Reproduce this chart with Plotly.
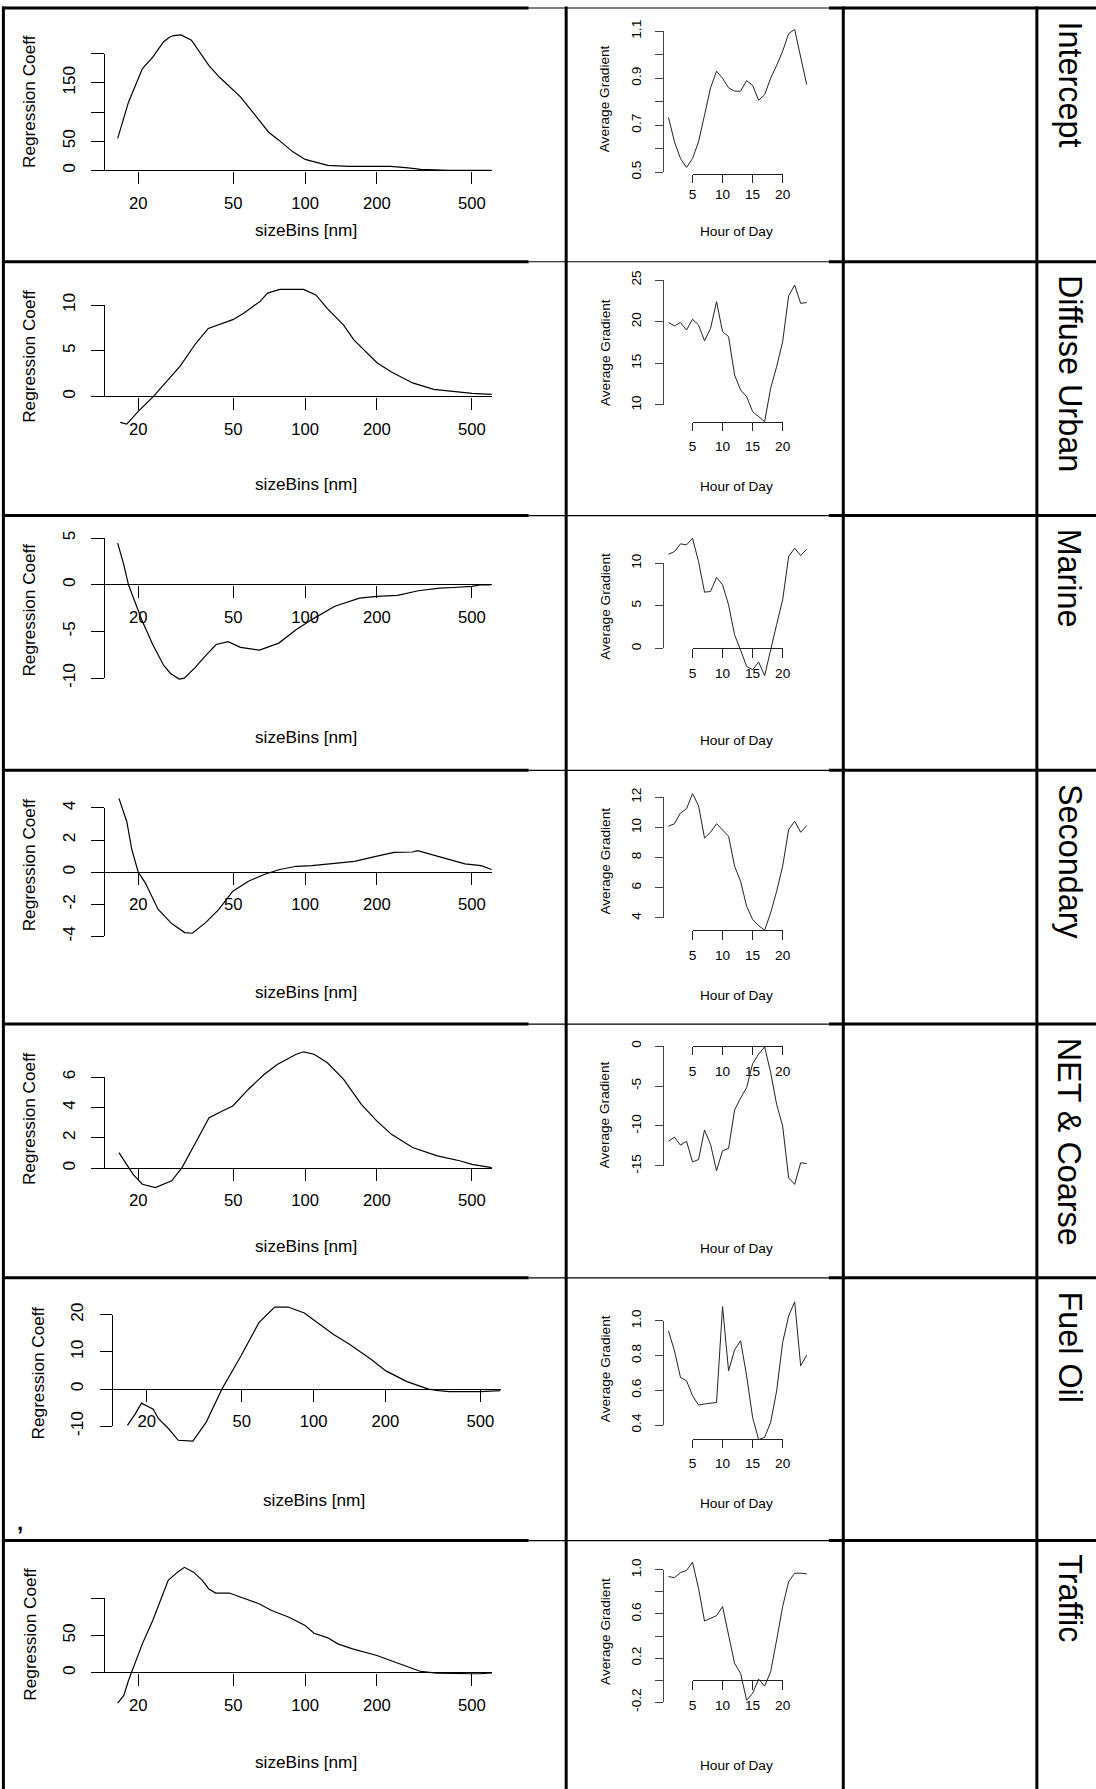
import math
import plotly.graph_objects as go

W, H = 1096, 1789
FONT = "Liberation Sans, Arial, sans-serif"

# ---------------- data ----------------
ROW_NAMES = ["Intercept", "Diffuse Urban", "Marine", "Secondary", "NET & Coarse", "Fuel Oil", "Traffic"]

SIZE_TICKS = [20, 50, 100, 200, 500]
SIZE_TICK_TEXT = ["20", "50", "100", "200", "500"]
HOUR_TICKS = [5, 10, 15, 20]
HOUR_TICK_TEXT = ["5", "10", "15", "20"]
HOURS = list(range(1, 25))

size_intercept = [16.4, 18.2, 20.8, 23.0, 25.5, 27.0, 28.2, 30.2, 33.4, 39.5, 43.7, 50.0, 53.6, 63.4, 70.2,
                  77.6, 88.9, 100, 124.5, 152, 228, 270, 305, 400, 500, 600]
coef_intercept = [55, 117, 174, 194, 220, 228, 231, 232, 223, 180, 160, 137, 126, 89, 66,
                  52, 32, 19, 9, 7, 7, 4.5, 2, 0.5, 0.3, 0.2]

size_diffuse = [16.8, 17.9, 20.0, 23.1, 29.9, 34.8, 39.3, 44.7, 49.8, 55.3, 64.8, 69.6, 78.4, 98.5, 111,
                124, 145, 160, 200, 230, 282, 346, 424, 500, 605]
coef_diffuse = [-2.8, -3.0, -1.6, 0.0, 3.3, 5.8, 7.45, 8.0, 8.4, 9.1, 10.4, 11.3, 11.7, 11.7, 11.1,
                9.6, 7.8, 6.2, 3.7, 2.7, 1.5, 0.8, 0.55, 0.36, 0.25]

size_marine = [16.4, 17.4, 18.2, 19.1, 20.8, 23.0, 25.5, 27.3, 29.7, 31.2, 34.5, 38.3, 42.4, 47.6, 53.6,
               64.4, 77.6, 91.9, 108.8, 133.2, 169, 200, 244, 298, 366, 418, 500, 549, 600]
coef_marine = [4.46, 2.14, 0.0, -1.43, -3.9, -6.4, -8.6, -9.5, -10.1, -10.0, -8.9, -7.6, -6.4, -6.1, -6.7,
               -7.0, -6.25, -4.8, -3.6, -2.3, -1.43, -1.25, -1.14, -0.64, -0.36, -0.29, -0.18, 0.0, 0.0]

size_secondary = [16.6, 17.9, 18.8, 20.0, 21.4, 24.2, 27.6, 31.3, 33.7, 38.3, 43.6, 49.8, 57.9, 67.3,
                  78.2, 91.9, 106.7, 131, 161, 200, 236, 282, 296, 328, 401, 467, 546, 605]
coef_secondary = [4.6, 3.16, 1.4, 0.0, -0.66, -2.3, -3.2, -3.76, -3.8, -3.14, -2.3, -1.18, -0.56, -0.14,
                   0.17, 0.37, 0.41, 0.54, 0.68, 1.0, 1.24, 1.26, 1.34, 1.16, 0.79, 0.52, 0.41, 0.17]

size_net = [16.6, 17.9, 19.0, 20.8, 23.6, 27.6, 30.5, 34.8, 39.6, 45.0, 49.8, 57.9, 67.3, 76.4, 91.8,
            98.5, 109, 124, 145, 172, 200, 230, 282, 358, 448, 500, 605]
coef_net = [1.03, 0.26, -0.39, -1.05, -1.27, -0.83, 0.04, 1.69, 3.33, 3.77, 4.1, 5.2, 6.17, 6.83, 7.5,
            7.66, 7.5, 6.94, 5.85, 4.2, 3.1, 2.23, 1.36, 0.81, 0.48, 0.26, 0.04]

size_fuel = [16.6, 17.9, 19.0, 20.2, 21.3, 22.4, 24.7, 27.1, 31.2, 35.5, 41.3, 49.6, 59.0, 68.7, 78.2,
             91.4, 103.9, 121.3, 141.3, 173.9, 200.8, 246, 303, 334, 370, 410, 500, 606]
coef_fuel = [-9.8, -6.7, -3.8, -4.7, -5.4, -8.0, -10.7, -13.8, -14.0, -8.9, 0.0, 8.9, 17.9, 22.1, 22.1,
             20.5, 17.9, 14.7, 12.1, 8.0, 4.9, 2.0, 0.0, -0.45, -0.7, -0.7, -0.7, -0.4]

size_traffic = [16.4, 17.4, 18.2, 19.1, 20.8, 23.0, 25.0, 26.7, 29.2, 31.2, 34.1, 37.1, 39.5, 42.2, 48.1,
                55.0, 64.4, 72.4, 85.6, 100, 109, 124.5, 137, 158, 180, 200, 228, 261, 305, 355, 418,
                500, 540, 608]
coef_traffic = [-40.6, -30.4, -10.3, 7.6, 38.8, 70.1, 99, 124, 135, 141.5, 135, 124, 112.5, 107, 107,
                100.4, 92.4, 83.5, 74.6, 63.4, 53.1, 46.9, 38.8, 32.1, 27.7, 23.2, 16.5, 9.8, 1.8, -0.4, -1.3,
                -1.3, -1.3, 0.0]

grad_intercept = [0.733, 0.629, 0.558, 0.52, 0.558, 0.629, 0.743, 0.859, 0.93, 0.90, 0.859, 0.845,
                  0.845, 0.89, 0.87, 0.806, 0.83, 0.90, 0.955, 1.015, 1.09, 1.108, 0.99, 0.873]
grad_diffuse = [19.9, 19.5, 19.9, 19.0, 20.3, 19.6, 17.7, 19.2, 22.4, 18.8, 18.2, 13.6,
                11.8, 11.0, 9.2, 8.6, 8.0, 12.0, 14.6, 17.6, 23.1, 24.4, 22.2, 22.3]
grad_marine = [11.05, 11.37, 12.27, 12.15, 12.93, 10.2, 6.6, 6.68, 8.32, 7.46, 5.12, 1.6,
               -0.2, -2.1, -2.5, -1.6, -3.2, 0.0, 2.8, 5.7, 10.8, 11.76, 10.9, 11.64]
grad_secondary = [10.08, 10.25, 10.96, 11.23, 12.24, 11.45, 9.3, 9.68, 10.25, 9.86, 9.41, 7.43,
                  6.43, 4.77, 3.89, 3.49, 3.18, 4.33, 5.77, 7.43, 9.86, 10.41, 9.68, 10.12]
grad_net = [-11.9, -11.4, -12.4, -11.9, -14.5, -14.2, -10.5, -12.3, -15.6, -13.1, -12.8, -8.0,
            -6.5, -5.2, -2.2, -1.0, -0.1, -3.3, -7.3, -10.0, -16.5, -17.3, -14.6, -14.7]
grad_fuel = [0.942, 0.827, 0.674, 0.655, 0.569, 0.515, 0.521, 0.525, 0.530, 1.082, 0.712, 0.833,
             0.885, 0.684, 0.444, 0.316, 0.329, 0.415, 0.597, 0.875, 1.028, 1.109, 0.741, 0.802]
grad_traffic = [0.939, 0.930, 0.976, 0.994, 1.07, 0.833, 0.536, 0.561, 0.585, 0.667, 0.409, 0.152,
                0.061, -0.182, -0.121, 0.009, -0.055, 0.076, 0.364, 0.667, 0.894, 0.970, 0.970, 0.964]

coef_yticks = [
    ([0, 50, 100, 150, 200], ["0", "50", "", "150", ""]),
    ([0, 5, 10], ["0", "5", "10"]),
    ([-10, -5, 0, 5], ["-10", "-5", "0", "5"]),
    ([-4, -2, 0, 2, 4], ["-4", "-2", "0", "2", "4"]),
    ([0, 2, 4, 6], ["0", "2", "4", "6"]),
    ([-10, 0, 10, 20], ["-10", "0", "10", "20"]),
    ([0, 50, 100], ["0", "50", ""]),
]
grad_yticks = [
    ([0.5, 0.6, 0.7, 0.8, 0.9, 1.0, 1.1], ["0.5", "", "0.7", "", "0.9", "", "1.1"]),
    ([10, 15, 20, 25], ["10", "15", "20", "25"]),
    ([0, 5, 10], ["0", "5", "10"]),
    ([4, 6, 8, 10, 12], ["4", "6", "8", "10", "12"]),
    ([-15, -10, -5, 0], ["-15", "-10", "-5", "0"]),
    ([0.4, 0.6, 0.8, 1.0], ["0.4", "0.6", "0.8", "1.0"]),
    ([-0.2, 0.0, 0.2, 0.4, 0.6, 0.8, 1.0], ["-0.2", "", "0.2", "", "0.6", "", "1.0"]),
]

left_data = [(size_intercept, coef_intercept), (size_diffuse, coef_diffuse), (size_marine, coef_marine),
             (size_secondary, coef_secondary), (size_net, coef_net), (size_fuel, coef_fuel),
             (size_traffic, coef_traffic)]
right_data = [grad_intercept, grad_diffuse, grad_marine, grad_secondary, grad_net, grad_fuel, grad_traffic]

# ---------------- layout geometry (target pixels) ----------------
# the photographed page comes out slightly shrunk and offset; compensate globally
OX, OY, SC = 4.6, 10.0, 0.9886


def X(t):
    return (t - OX) / SC


def Y(t):
    return (t - OY) / SC


def clamp(v):
    return min(1.0, max(0.0, v))


def xpap(t):
    return X(t) / W


def ypap(t):
    return 1 - Y(t) / H


def fs(v):
    return v / SC


YMIN_T = OY + 0.5
YMAX_T = OY + SC * H - 0.5

ROW_TOPS = [6, 260, 514, 769, 1023, 1277, 1540]
ROW_BOTS = [260, 514, 769, 1023, 1277, 1540, 1789]

LEFT_GEOM = [
    dict(off=0.0, cal=((0, 168.7), (200, 51.7)), xt=222, yt=94),
    dict(off=0.0, cal=((0, 395.0), (10, 303.3)), xt=222, yt=95),
    dict(off=0.0, cal=((0, 583.3), (-10, 676.7)), xt=222, yt=95),
    dict(off=0.0, cal=((0, 871.0), (4, 806.7)), xt=222, yt=95),
    dict(off=0.0, cal=((0, 1167.3), (6, 1076.0)), xt=222, yt=95),
    dict(off=8.5, cal=((0, 1388.3), (20, 1314.0)), xt=222, yt=95),
    dict(off=0.0, cal=((0, 1672.3), (100, 1597.7)), xt=222, yt=94),
]
RIGHT_GEOM = [
    dict(cal=((0.5, 170.3), (1.1, 29.3)), xaxis_py=172.0, stand=0, xt=224),
    dict(cal=((10, 403.3), (25, 278.3)), xaxis_py=420.0, stand=4, xt=225),
    dict(cal=((0, 647.0), (10, 561.7)), xaxis_py=647.0, stand=4, xt=225),
    dict(cal=((4, 916.7), (12, 796.0)), xaxis_py=929.3, stand=4, xt=225),
    dict(cal=((0, 1045.0), (-15, 1165.0)), xaxis_py=1045.0, stand=4, xt=225),
    dict(cal=((0.4, 1424.3), (1.0, 1320.0)), xaxis_py=1438.3, stand=4, xt=226),
    dict(cal=((-0.2, 1701.7), (1.0, 1569.3)), xaxis_py=1680.0, stand=4, xt=225),
]

axes = {}
traces = []
annotations = []
counter = {"x": 0, "y": 0}


def ref(kind, n):
    return kind + ("" if n == 1 else str(n))


def add_axis(kind, spec):
    counter[kind] += 1
    n = counter[kind]
    axes[kind + "axis" + ("" if n == 1 else str(n))] = spec
    return n


def ymap(cal):
    (va, pa), (vb, pb) = cal
    slope = (vb - va) / (pb - pa)
    return (lambda py: va + (py - pa) * slope), (lambda v: pa + (v - va) / slope)


def ann(text, x, y, size, angle=0, xanchor="center", yanchor="middle"):
    annotations.append(dict(text=text, x=xpap(x), y=ypap(y), xref="paper", yref="paper",
                            showarrow=False, textangle=angle, xanchor=xanchor, yanchor=yanchor,
                            font=dict(family=FONT, size=fs(size), color="black")))


LF = 17
RF = 13.5
hidden = dict(showline=False, showgrid=False, zeroline=False, showticklabels=False, ticks="")

for i in range(7):
    top, bot = ROW_TOPS[i], ROW_BOTS[i]
    dtop, dbot = max(top + 4, YMIN_T), min(bot - 4, YMAX_T)
    # ----- left: regression coefficient vs size bins (log x) -----
    g = LEFT_GEOM[i]
    off = g["off"]
    x20, dec = 138.8 + off, 238.6
    xl, xr = 104.2 + off, 492.5 + off
    logv = lambda px: math.log10(20) + (px - x20) / dec
    val, pix = ymap(g["cal"])
    xn = add_axis("x", dict(type="log", domain=[clamp(xpap(xl)), clamp(xpap(xr))], range=[logv(xl), logv(xr)],
                            anchor="free", position=clamp(ypap(pix(0))), showline=False, showgrid=False,
                            zeroline=False, ticks="outside", ticklen=fs(12), tickwidth=1.1, tickcolor="black",
                            tickmode="array", tickvals=SIZE_TICKS, ticktext=SIZE_TICK_TEXT,
                            ticklabelstandoff=5,
                            tickfont=dict(family=FONT, size=fs(16.5), color="black")))
    yn = add_axis("y", dict(domain=[clamp(ypap(dbot)), clamp(ypap(dtop))], range=[val(dbot), val(dtop)],
                            anchor=ref("x", xn), **{**hidden, "zeroline": True},
                            zerolinecolor="black", zerolinewidth=1.2))
    sizes, coefs = left_data[i]
    traces.append(go.Scatter(x=sizes, y=coefs, mode="lines", line=dict(color="black", width=1.2),
                             xaxis=ref("x", xn), yaxis=ref("y", yn), showlegend=False, hoverinfo="skip"))
    tv, tt = coef_yticks[i]
    ytn = add_axis("y", dict(domain=[clamp(ypap(pix(min(tv)))), clamp(ypap(pix(max(tv))))],
                             range=[min(tv), max(tv)],
                             anchor="free", position=clamp(xpap(xl)), showline=True, linecolor="black",
                             linewidth=1.2, showgrid=False, zeroline=False, ticks="outside", ticklen=fs(12),
                             tickwidth=1.1, tickcolor="black", tickmode="array", tickvals=tv, ticktext=tt,
                             tickangle=-90, ticklabelstandoff=10,
                             tickfont=dict(family=FONT, size=fs(LF), color="black")))
    traces.append(go.Scatter(x=[], y=[], mode="lines", xaxis=ref("x", xn), yaxis=ref("y", ytn),
                             showlegend=False, hoverinfo="skip"))
    ann("Regression Coeff", 29.7 + off, top + g["yt"], LF, angle=-90)
    ann("sizeBins [nm]", 306 + off, top + g["xt"], LF)

    # ----- right: average gradient vs hour of day -----
    r = RIGHT_GEOM[i]
    h5, h20 = 692.8, 782.9
    hx = lambda px: 5 + (px - h5) * 15 / (h20 - h5)
    val, pix = ymap(r["cal"])
    xd = add_axis("x", dict(domain=[clamp(xpap(663.3)), clamp(xpap(815))], range=[hx(663.3), hx(815)],
                            **hidden))
    yd = add_axis("y", dict(domain=[clamp(ypap(dbot)), clamp(ypap(dtop))], range=[val(dbot), val(dtop)],
                            anchor=ref("x", xd), **hidden))
    axes["xaxis" + ("" if xd == 1 else str(xd))]["anchor"] = ref("y", yd)
    traces.append(go.Scatter(x=HOURS, y=right_data[i], mode="lines", line=dict(color="#222222", width=1.0),
                             xaxis=ref("x", xd), yaxis=ref("y", yd), showlegend=False, hoverinfo="skip"))
    tv, tt = grad_yticks[i]
    xt = add_axis("x", dict(domain=[clamp(xpap(h5)), clamp(xpap(h20))], range=[5, 20], anchor="free",
                            position=clamp(ypap(r["xaxis_py"])), showline=True, linecolor="#222222",
                            linewidth=1.0, showgrid=False, zeroline=False, ticks="outside", ticklen=fs(8),
                            tickwidth=1, tickcolor="#222222", tickmode="array", tickvals=HOUR_TICKS,
                            ticktext=HOUR_TICK_TEXT, ticklabelstandoff=r["stand"],
                            tickfont=dict(family=FONT, size=fs(RF), color="black")))
    yt = add_axis("y", dict(domain=[clamp(ypap(pix(min(tv)))), clamp(ypap(pix(max(tv))))],
                            range=[min(tv), max(tv)],
                            anchor="free", position=clamp(xpap(663.3)), showline=True, linecolor="#444444",
                            linewidth=1.0, showgrid=False, zeroline=False, ticks="outside", ticklen=fs(8),
                            tickwidth=1, tickcolor="#444444", tickmode="array", tickvals=tv, ticktext=tt,
                            tickangle=-90, ticklabelstandoff=8,
                            tickfont=dict(family=FONT, size=fs(RF), color="black")))
    traces.append(go.Scatter(x=[], y=[], mode="lines", xaxis=ref("x", xt), yaxis=ref("y", yt),
                             showlegend=False, hoverinfo="skip"))
    ann("Average Gradient", 605.7, top + 91, RF, angle=-90)
    ann("Hour of Day", 737, top + r["xt"], RF)

    # ----- row label -----
    ann(ROW_NAMES[i], 1070, top + 11.5, 32, angle=90, yanchor="top")

annotations.append(dict(text="<b>,</b>", x=xpap(21), y=ypap(1522), xref="paper", yref="paper",
                        showarrow=False, xanchor="center", yanchor="middle",
                        font=dict(family=FONT, size=fs(22), color="black")))

# ---------------- table borders ----------------
shapes = []


def seg(x0, y0, x1, y1, w):
    shapes.append(dict(type="line", xref="paper", yref="paper", x0=xpap(x0), x1=xpap(x1),
                       y0=ypap(y0), y1=ypap(y1), line=dict(color="black", width=w), layer="above"))


for y in ROW_TOPS:
    seg(3, y, 529, y, 3)
    seg(529, y, 829, y, 1.2)
    seg(829, y, 1100, y, 3)
for x in [4.0, 566.5, 843.5, 1037]:
    seg(x, 4.5, x, 1800, 3)

fig = go.Figure(data=traces)
fig.update_layout(width=W, height=H, autosize=False, margin=dict(l=0, r=0, t=0, b=0),
                  paper_bgcolor="white", plot_bgcolor="rgba(0,0,0,0)", showlegend=False,
                  annotations=annotations, shapes=shapes, **axes)
fig.write_html("out.html", config={"displayModeBar": False},
               post_script="document.documentElement.style.margin='0px';"
                           "document.body.style.margin='0px';document.body.style.padding='0px';"
                           "document.body.style.overflow='hidden';")
